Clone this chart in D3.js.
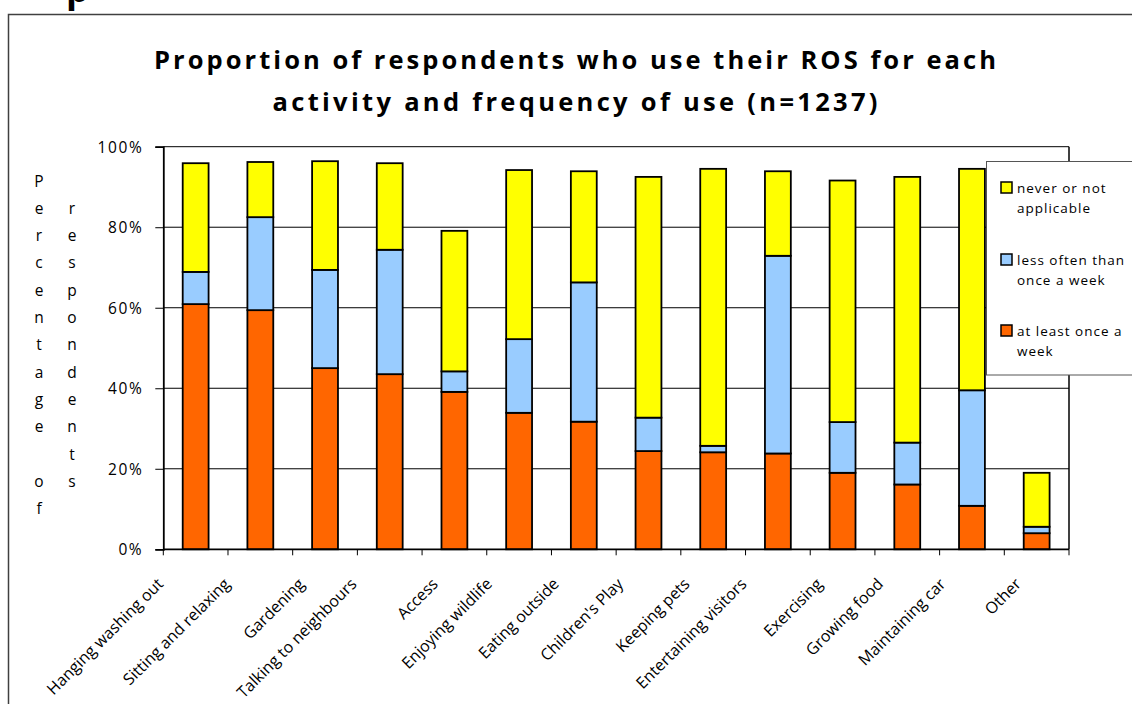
<!DOCTYPE html>
<html>
<head>
<meta charset="utf-8">
<script src="https://cdn.jsdelivr.net/npm/d3@7"></script>
<style>
  html, body { margin: 0; padding: 0; background: #fff; }
  svg { display: block; font-family: "Open Sans", "DejaVu Sans", sans-serif; }
</style>
</head>
<body>
<svg id="chart" width="1132" height="704"></svg>
<script>
// Activities asked about in the survey
const categories = [
  "Hanging washing out", "Sitting and relaxing", "Gardening", "Talking to neighbours",
  "Access", "Enjoying wildlife", "Eating outside", "Children's Play", "Keeping pets",
  "Entertaining visitors", "Exercising", "Growing food", "Maintaining car", "Other"
];
// Percent of respondents in each frequency band
const atLeastWeekly = [60.9, 59.4, 45.0, 43.5, 39.1, 33.9, 31.7, 24.4, 24.1, 23.8, 19.0, 16.1, 10.8, 4.0];
const lessOften     = [8.0, 23.1, 24.4, 30.9, 5.1, 18.3, 34.6, 8.3, 1.6, 49.1, 12.6, 10.4, 28.7, 1.6];
const neverNA       = [27.0, 13.7, 27.0, 21.5, 34.9, 42.0, 27.6, 59.8, 68.8, 21.0, 60.0, 66.0, 55.0, 13.4];

const seriesKeys = ["atLeast", "less", "never"];
const seriesLabels = [["at least once a", "week"], ["less often than", "once a week"], ["never or not", "applicable"]];
const seriesColors = ["#FF6600", "#99CCFF", "#FFFF00"];
const yTicks = [0, 20, 40, 60, 80, 100];
const titleLines = ["Proportion of respondents who use their ROS for each", "activity and frequency of use (n=1237)"];
const yAxisLabel = "Percentage of respondents";

const rows = categories.map((c, i) => ({
  cat: c, atLeast: atLeastWeekly[i], less: lessOften[i], never: neverNA[i]
}));

const svg = d3.select("#chart");

// heading fragment of the surrounding document, mostly above the page edge
svg.append("text").attr("x", 66).attr("y", 2)
  .attr("font-size", 36).attr("font-weight", 700).attr("fill", "#000").text("p");

// chart frame
svg.append("rect").attr("x", 8.5).attr("y", 14.5).attr("width", 1300).attr("height", 900)
  .attr("fill", "#fff").attr("stroke", "#404040").attr("stroke-width", 1.5);

// title
svg.append("g").selectAll("text").data(titleLines).join("text")
  .attr("x", 575).attr("y", (d, i) => 69 + i * 42)
  .attr("text-anchor", "middle")
  .attr("font-size", 25.5).attr("font-weight", 700).attr("fill", "#000")
  .attr("textLength", (d, i) => i === 0 ? 842 : 605)
  .attr("lengthAdjust", "spacing")
  .text(d => d);

const plot = { left: 163.3, right: 1069, top: 146.7, bottom: 549.3 };

const x = d3.scaleBand().domain(categories)
  .range([plot.left, plot.right]).paddingInner(0.6).paddingOuter(0.3);
const y = d3.scaleLinear().domain([0, 100]).range([plot.bottom, plot.top]);

// gridlines
svg.append("g").selectAll("line").data(yTicks.filter(t => t > 0)).join("line")
  .attr("x1", plot.left).attr("x2", plot.right)
  .attr("y1", d => y(d)).attr("y2", d => y(d))
  .attr("stroke", "#000").attr("stroke-width", 1);

// right border of plot area
svg.append("line").attr("x1", plot.right).attr("x2", plot.right)
  .attr("y1", plot.top).attr("y2", plot.bottom)
  .attr("stroke", "#000").attr("stroke-width", 1.5);

// stacked bars
const stack = d3.stack().keys(seriesKeys)(rows);
svg.append("g").selectAll("g").data(stack).join("g")
  .attr("fill", (d, i) => seriesColors[i])
  .selectAll("rect").data(d => d).join("rect")
  .attr("x", d => x(d.data.cat))
  .attr("width", x.bandwidth())
  .attr("y", d => y(d[1]))
  .attr("height", d => y(d[0]) - y(d[1]))
  .attr("stroke", "#000").attr("stroke-width", 1.8);

// y axis
const yAxis = d3.axisLeft(y).tickValues(yTicks).tickFormat(d => d + "%").tickSize(8).tickPadding(12);
const gy = svg.append("g").attr("transform", `translate(${plot.left},0)`).call(yAxis);
gy.select(".domain").attr("stroke", "#000").attr("stroke-width", 1.8);
gy.selectAll(".tick line").attr("stroke", "#000").attr("stroke-width", 1);
gy.selectAll(".tick text").attr("font-size", 15.5).attr("letter-spacing", 1.6)
  .attr("fill", "#000").attr("font-family", "'Open Sans', sans-serif")
  .attr("dy", "0.35em");

// x axis: ticks sit on category boundaries
const step = x.step();
const boundaries = categories.map(c => x(c) + x.bandwidth() / 2 - step / 2).concat([plot.right]);
svg.append("line").attr("x1", plot.left).attr("x2", plot.right)
  .attr("y1", plot.bottom).attr("y2", plot.bottom)
  .attr("stroke", "#000").attr("stroke-width", 1.8);
svg.append("g").selectAll("line").data(boundaries).join("line")
  .attr("x1", d => d).attr("x2", d => d)
  .attr("y1", plot.bottom).attr("y2", plot.bottom + 6)
  .attr("stroke", "#000").attr("stroke-width", 1);

// rotated category labels
const xl = svg.append("g").selectAll("text").data(categories).join("text")
  .attr("text-anchor", "end")
  .attr("font-size", 16).attr("fill", "#000")
  .text(d => d);
xl.each(function (d) {
  const w = this.getComputedTextLength();
  const cx = x(d) + x.bandwidth() / 2;
  const ax = cx - 8 - 0.15 * w;
  const ay = 585;
  d3.select(this).attr("transform", `translate(${ax},${ay}) rotate(-45)`);
});

// y axis title, one character per row, wrapping into a second column
const chars = Array.from(yAxisLabel);
const perCol = 13;
svg.append("g").selectAll("text").data(chars).join("text")
  .attr("x", (d, i) => i < perCol ? 39 : 72)
  .attr("y", (d, i) => 186.5 + 27.3 * (i % perCol))
  .attr("text-anchor", "middle")
  .attr("font-size", 15.5).attr("fill", "#000")
  .text(d => d);

// legend
const lg = svg.append("g");
lg.append("rect").attr("x", 986.5).attr("y", 161.5).attr("width", 200).attr("height", 213.5)
  .attr("fill", "#fff").attr("stroke", "#555").attr("stroke-width", 1);
const legendOrder = [2, 1, 0];
const legendBase = [193, 265, 336];
legendOrder.forEach((s, k) => {
  const by = legendBase[k];
  lg.append("rect").attr("x", 1001).attr("y", by - 11).attr("width", 11).attr("height", 11)
    .attr("fill", seriesColors[s]).attr("stroke", "#000").attr("stroke-width", 1.5);
  seriesLabels[s].forEach((line, j) => {
    lg.append("text").attr("x", 1017).attr("y", by + j * 19.5)
      .attr("font-size", 13.5).attr("letter-spacing", 1).attr("fill", "#000")
      .text(line);
  });
});
</script>
</body>
</html>
